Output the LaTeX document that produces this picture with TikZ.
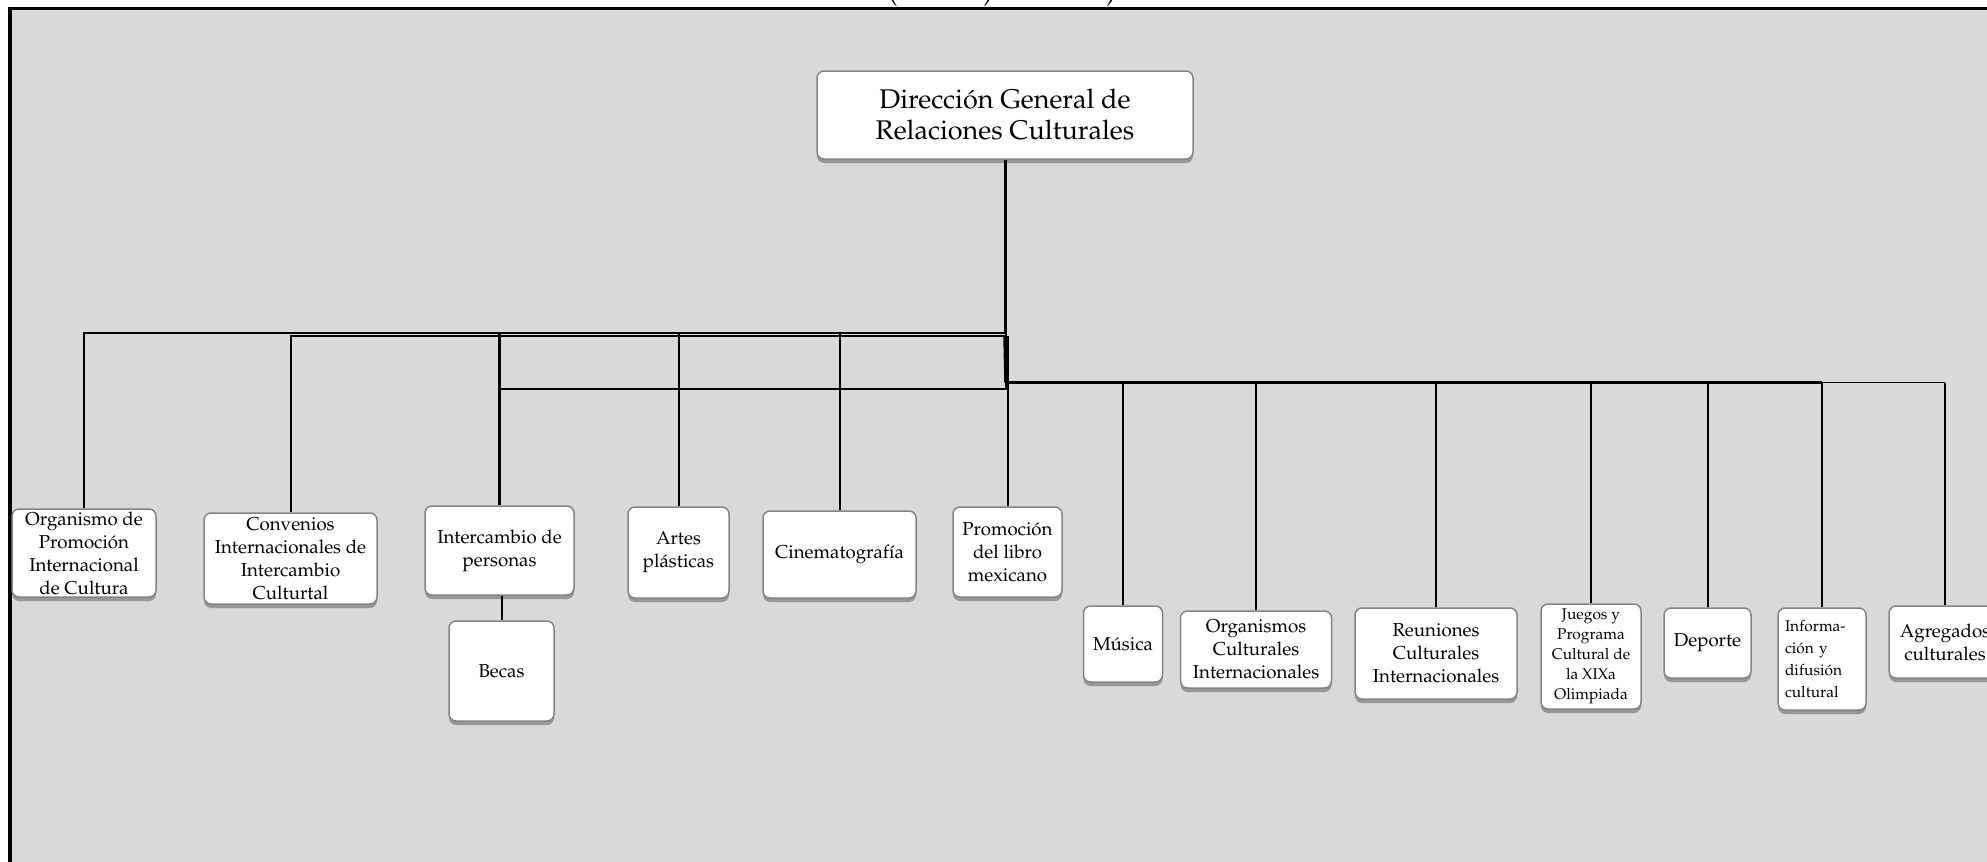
\documentclass[tikz,border=0pt]{standalone}
\usepackage[T1]{fontenc}
\renewcommand{\rmdefault}{ppl}
\usetikzlibrary{shadows}

\definecolor{panel}{HTML}{D9D9D9}
\definecolor{boxedge}{HTML}{858585}

\begin{document}
\begin{tikzpicture}[x=1pt,y=-1pt,
  unitbox/.style={draw=boxedge, line width=1.5pt, fill=white,
    rounded corners=7pt, inner sep=0pt, align=center,
    drop shadow={shadow xshift=0pt, shadow yshift=-4pt, opacity=0.3, fill=black},
    font=\fontsize{18.7}{23}\selectfont},
  headbox/.style={unitbox, font=\fontsize{27}{31}\selectfont},
  smallbox/.style={unitbox, font=\fontsize{15.5}{20}\selectfont},
  link/.style={draw=black, line width=2pt},
  trunk/.style={draw=black, line width=3pt},
  fine/.style={draw=black, line width=1.2pt},
]
\useasboundingbox (0,0) rectangle (1987,862);

% page and framed panel
\fill[white] (0,0) rectangle (1987,862);
\draw[line width=3.5pt, fill=panel] (10,8.5) rectangle (2000,880);

% descenders of the heading line above the panel
\begin{scope}
  \clip (0,0) rectangle (1987,6.8);
  \node[anchor=base, inner sep=0pt, font=\fontsize{28}{30}\selectfont] (frag1) at (893,1) {(};
  \node[anchor=base, inner sep=0pt, font=\fontsize{28}{30}\selectfont] (frag2) at (988,1) {)};
  \node[anchor=base, inner sep=0pt, font=\fontsize{28}{30}\selectfont] (frag3) at (1111,1) {)};
\end{scope}

% head office
\node[headbox, minimum width=376pt, minimum height=88pt] (top) at (1005,115)
  {Dirección General de\\Relaciones Culturales};

% left group
\node[unitbox, minimum width=144pt, minimum height=88pt] (org) at (84,553)
  {Organismo de\\Promoción\\Internacional\\de Cultura};
\node[unitbox, minimum width=173pt, minimum height=91pt] (conv) at (290.5,558.5)
  {Convenios\\Internacionales de\\Intercambio\\Culturtal};
\node[unitbox, minimum width=149pt, minimum height=89pt] (inter) at (499.5,550.5)
  {Intercambio de\\personas};
\node[unitbox, minimum width=105pt, minimum height=100pt] (becas) at (501.5,671)
  {Becas};
\node[unitbox, minimum width=101pt, minimum height=91pt] (artes) at (678.5,552.5)
  {Artes\\plásticas};
\node[unitbox, minimum width=153pt, minimum height=87pt] (cine) at (839.5,554.5)
  {Cinematografía};
\node[unitbox, minimum width=109pt, minimum height=90pt] (promo) at (1007.5,552)
  {Promoción\\del libro\\mexicano};

% right group
\node[unitbox, minimum width=79pt, minimum height=76pt] (musica) at (1123,644)
  {Música};
\node[unitbox, minimum width=151pt, minimum height=77pt] (orgcult) at (1256,649.5)
  {Organismos\\Culturales\\Internacionales};
\node[unitbox, minimum width=162pt, minimum height=91pt] (reun) at (1436,653.5)
  {Reuniones\\Culturales\\Internacionales};
\node[smallbox, minimum width=100pt, minimum height=105pt] (juegos) at (1591,656.5)
  {Juegos y\\Programa\\Cultural de\\la XIXa\\Olimpiada};
\node[unitbox, minimum width=87pt, minimum height=70pt] (deporte) at (1707.5,643)
  {Deporte};
\node[unitbox, minimum width=88pt, minimum height=102pt, text width=74pt, align=left,
  font=\fontsize{15.5}{22}\selectfont] (info) at (1822,659)
  {Informa-\\ción y\\difusión\\cultural};
\node[unitbox, minimum width=112pt, minimum height=72pt] (agreg) at (1945,642)
  {Agregados\\culturales};

% junction points of the buses
\coordinate (busL) at (1005,333);
\coordinate (busL2) at (1005,336);
\coordinate (boxTL) at (499,333);
\coordinate (boxBR) at (1006,389);
\coordinate (busR) at (1006,382.5);

% trunk from the head office
\draw[trunk] (top.south) -- (busL);

% left bus (doubled stroke) and the frame beneath it
\draw[link] (org.north) |- (busL);
\draw[link] (conv.north) |- (busL2);
\draw[line width=1.5pt] (boxTL) rectangle (boxBR);
\draw[link] (artes.north) -- (artes.north |- busL);
\draw[link] (cine.north) -- (cine.north |- busL);
\draw[trunk] (inter.north) -- (inter.north |- busL);
\draw[link] (becas.north) -- (becas.north |- inter.south);
\draw[link] (promo.north) -- (promo.north |- busL2);

% right bus, thinning out to the right
\draw[line width=3.5pt] (busL2) -- (busR);
\draw[line width=3.5pt] (busR) -- (juegos.north |- busR);
\draw[line width=2.5pt] (juegos.north |- busR) -- (info.north |- busR);
\draw[fine] (info.north |- busR) -- (agreg.north |- busR);
\draw[link] (musica.north) -- (musica.north |- busR);
\draw[link] (orgcult.north) -- (orgcult.north |- busR);
\draw[link] (reun.north) -- (reun.north |- busR);
\draw[line width=2.5pt] (juegos.north) -- (juegos.north |- busR);
\draw[link] (deporte.north) -- (deporte.north |- busR);
\draw[line width=2.5pt] (info.north) -- (info.north |- busR);
\draw[fine] (agreg.north) -- (agreg.north |- busR);
\end{tikzpicture}
\end{document}
